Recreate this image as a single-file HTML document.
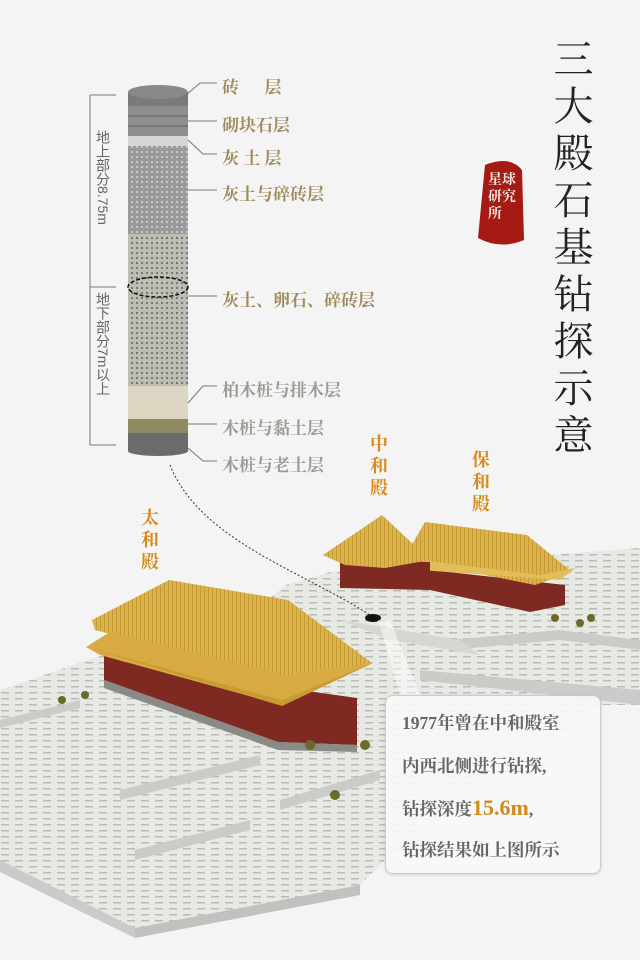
<!DOCTYPE html>
<html><head><meta charset="utf-8"><style>
body{margin:0;width:640px;height:960px;background:#f4f4f4;overflow:hidden;position:relative;font-family:"Liberation Serif","Noto Serif CJK SC",serif}
.t{position:absolute;font-weight:bold}
.lab{position:absolute;left:222px;font-size:17px;font-weight:bold;color:#a08a5c;white-space:nowrap}
.lab.g{color:#9a9a92}
.vt{position:absolute;writing-mode:vertical-rl;font-size:14px;color:#666;white-space:nowrap;font-family:"Liberation Sans","Noto Sans CJK SC",sans-serif}
.pal{position:absolute;writing-mode:vertical-rl;font-size:18px;font-weight:bold;color:#d88a18;line-height:18px;letter-spacing:4px}
.title{position:absolute;left:545px;top:38px;writing-mode:vertical-rl;font-size:40px;color:#222;letter-spacing:7px;font-family:"Noto Serif CJK SC",serif}
.box{position:absolute;left:385px;top:695px;width:214px;height:177px;border:1px solid #ccc;border-radius:8px;background:rgba(248,248,248,.9);box-shadow:0 1px 3px rgba(0,0,0,.15)}
.box div{position:absolute;left:16px;font-size:17.5px;font-weight:bold;color:#666;white-space:nowrap}
</style></head><body>
<svg width="640" height="960" style="position:absolute;left:0;top:0">
<defs>
<pattern id="st" width="14" height="6" patternUnits="userSpaceOnUse"><rect width="14" height="6" fill="#e6e9e4"/><rect x="1" y="2" width="8" height="1.5" fill="#b9bdb6"/></pattern>
<pattern id="gr" width="5" height="5" patternUnits="userSpaceOnUse"><rect width="5" height="5" fill="#9a9a9a"/><rect x="1" y="1" width="2" height="2" fill="#c8c8c8"/></pattern>
<pattern id="gr2" width="5" height="5" patternUnits="userSpaceOnUse"><rect width="5" height="5" fill="#bdbdb5"/><rect x="1" y="2" width="2" height="2" fill="#7a7a72"/></pattern>
<pattern id="rf" width="4" height="4" patternUnits="userSpaceOnUse"><rect width="4" height="4" fill="#dcb24a"/><rect width="1" height="4" fill="#c49a34"/></pattern>
</defs>
<polygon points="0,690 270,598 286,585 330,572 640,548 640,705 600,705 385,860 360,885 135,928 0,860" fill="url(#st)"/>
<polygon points="0,860 135,928 135,938 0,872" fill="#c9ccc8"/>
<polygon points="135,928 360,885 360,895 135,938" fill="#bfc2be"/>
<polygon points="135,850 250,820 250,830 135,860" fill="#c9ccc8"/>
<polygon points="120,790 260,755 260,765 120,800" fill="#c9ccc8"/>
<polygon points="280,800 380,770 380,780 280,810" fill="#c9ccc8"/>
<polygon points="450,640 560,630 640,640 640,650 560,640 450,650" fill="#c9ccc8"/>
<polygon points="420,670 640,690 640,705 420,680" fill="#c9ccc8"/>
<polygon points="0,720 80,700 80,708 0,728" fill="#c9ccc8"/>
<polygon points="340,620 460,640 480,655 390,640" fill="#d4d7d2"/>
<path d="M170,465 C200,540 300,570 370,615" stroke="#333" stroke-width="1" stroke-dasharray="2,2" fill="none"/>
<ellipse cx="373" cy="618" rx="8" ry="4" fill="#111"/>
<polygon points="378,620 390,620 420,695 400,695" fill="#fff" opacity=".5"/>
<polygon points="430,570 565,585 565,605 530,612 430,590" fill="#7e2a22"/>
<polygon points="410,548 425,522 527,535 572,572 535,585 410,560" fill="url(#rf)"/>
<polygon points="420,560 540,575 575,568 560,580 420,570" fill="#e2bd5a"/>
<polygon points="340,560 430,562 430,590 340,588" fill="#7e2a22"/>
<polygon points="382,515 323,555 345,565 385,568 430,560" fill="url(#rf)"/>
<polygon points="104,655 300,690 357,698 357,745 278,742 104,680" fill="#7e2a22"/>
<polygon points="104,680 278,742 357,745 357,752 278,750 104,688" fill="#8a8a86"/>
<polygon points="92,620 169,580 288,600 372,663 285,680 95,630" fill="url(#rf)"/>
<polygon points="86,647 110,632 285,675 373,663 282,705 100,655" fill="#d7ab42"/>
<polygon points="86,647 282,700 373,663 282,706" fill="#c99c30"/>
<g fill="#6b6a2a"><circle cx="335" cy="795" r="5"/><circle cx="310" cy="745" r="5"/><circle cx="365" cy="745" r="5"/><circle cx="62" cy="700" r="4"/><circle cx="85" cy="695" r="4"/><circle cx="555" cy="618" r="4"/><circle cx="580" cy="623" r="4"/><circle cx="591" cy="618" r="4"/></g>
<rect x="128" y="92" width="60" height="14" fill="#7a7a7a"/>
<rect x="128" y="106" width="60" height="30" fill="#8e8e8e"/>
<g stroke="#5f5f5f" stroke-width="1"><line x1="128" y1="116" x2="188" y2="116"/><line x1="128" y1="126" x2="188" y2="126"/></g>
<rect x="128" y="136" width="60" height="10" fill="#d6d6d6"/>
<rect x="128" y="146" width="60" height="88" fill="url(#gr)"/>
<rect x="128" y="234" width="60" height="152" fill="url(#gr2)"/>
<rect x="128" y="386" width="60" height="33" fill="#ddd6c2"/>
<rect x="128" y="419" width="60" height="14" fill="#8e8a62"/>
<rect x="128" y="433" width="60" height="18" fill="#6b6b6b"/>
<ellipse cx="158" cy="451" rx="30" ry="5" fill="#6b6b6b"/>
<ellipse cx="158" cy="92" rx="30" ry="7" fill="#888"/>
<ellipse cx="158" cy="287" rx="30" ry="10" fill="none" stroke="#111" stroke-width="1.5" stroke-dasharray="4,2"/>
<g stroke="#777" stroke-width="1" fill="none">
<path d="M185,96 L200,83 L217,83"/><path d="M188,121 L217,121"/><path d="M188,140 L203,154 L217,154"/><path d="M188,190 L217,190"/><path d="M188,296 L217,296"/><path d="M188,403 L203,386 L217,386"/><path d="M188,424 L217,424"/><path d="M188,448 L203,461 L217,461"/>
<path d="M90,95 L90,445 M90,287 L116,287 M90,95 L116,95 M90,445 L116,445"/>
</g>
<path d="M485,165 Q510,155 522,170 L524,240 Q500,250 478,238 Z" fill="#a51b14"/>
</svg>
<div class="lab" style="top:73px">砖&emsp;&ensp;层</div>
<div class="lab" style="top:111px">砌块石层</div>
<div class="lab" style="top:144px">灰 土 层</div>
<div class="lab" style="top:180px">灰土与碎砖层</div>
<div class="lab" style="top:286px">灰土、卵石、碎砖层</div>
<div class="lab g" style="top:376px">柏木桩与排木层</div>
<div class="lab g" style="top:414px">木桩与黏土层</div>
<div class="lab g" style="top:451px">木桩与老土层</div>
<div class="vt" style="left:93px;top:130px">地上部分8.75m</div>
<div class="vt" style="left:93px;top:292px">地下部分7m以上</div>
<div class="title">三大殿石基钻探示意</div>
<div class="t" style="left:488px;top:172px;color:#f4e6e0;font-size:14px;line-height:17px;width:34px">星球研究所</div>
<div class="pal" style="left:140px;top:508px">太和殿</div>
<div class="pal" style="left:369px;top:434px">中和殿</div>
<div class="pal" style="left:471px;top:450px">保和殿</div>
<div class="box">
<div style="top:14px">1977年曾在中和殿室</div>
<div style="top:57px">内西北侧进行钻探,</div>
<div style="top:99px">钻探深度<span style="color:#d08b1c;font-size:22px">15.6m</span>,</div>
<div style="top:141px">钻探结果如上图所示</div>
</div>
</body></html>
